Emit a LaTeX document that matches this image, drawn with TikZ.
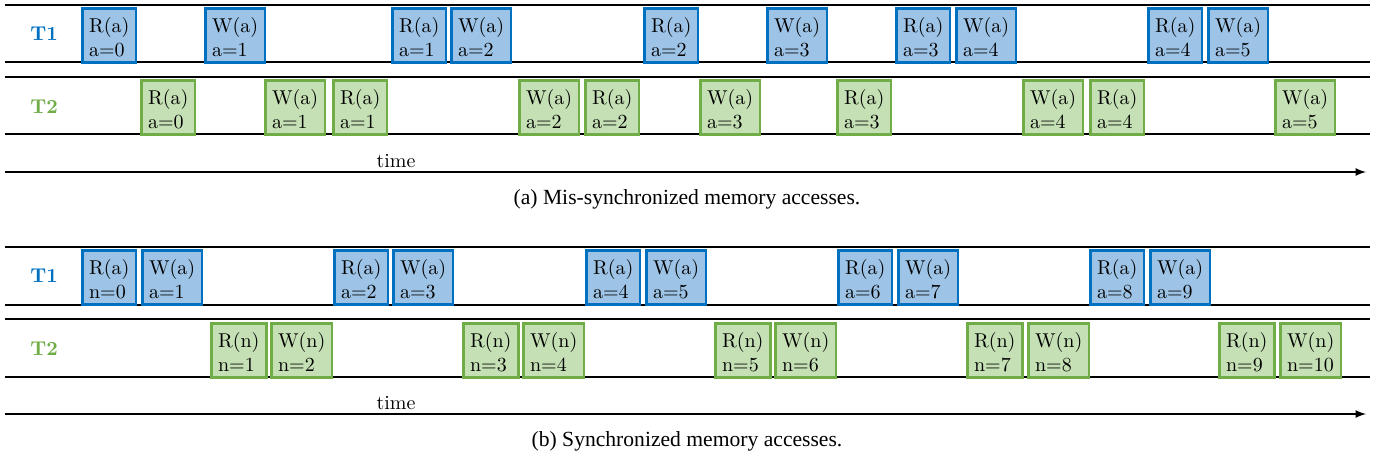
\documentclass[tikz,border=0pt]{standalone}
\usepackage{fontspec}
\newfontfamily\capfont{Liberation Serif}
\usepackage{tikz}
\usetikzlibrary{positioning,arrows}
\definecolor{tonecol}{RGB}{0,112,192}
\definecolor{tonefill}{RGB}{157,195,230}
\definecolor{ttwocol}{RGB}{112,173,71}
\definecolor{ttwofill}{RGB}{197,224,180}
\tikzset{
  opbox/.style={draw, line width=1.3pt, anchor=north west, align=left,
    minimum height=27pt, inner xsep=3.4pt, inner ysep=0pt,
    text height=24pt, text depth=3pt},
  oneop/.style={opbox, draw=tonecol, fill=tonefill},
  twoop/.style={opbox, draw=ttwocol, fill=ttwofill},
  lane/.style={line width=0.8pt},
  tlabel/.style={font=\bfseries},
  caption/.style={font=\capfont\fontsize{10.8}{13}\selectfont},
}

\begin{document}
\begin{tikzpicture}[x=0.5pt,y=-0.5pt,>=latex]
	\useasboundingbox (0,0) rectangle (1375,460);

	%(a) the mis-synchronized accesses
	\draw[lane] (5,5) -- (1370,5);
	\draw[lane] (5,62) -- (1370,62);
	\draw[lane] (5,77) -- (1370,77);
	\draw[lane] (5,134) -- (1370,134);
	\node[tlabel,text=tonecol] (misT1) at (44,34) {T1};
	\node[tlabel,text=ttwocol] (misT2) at (44,107) {T2};
	\foreach \x/\op/\v [count=\i] in {81/R/0,204/W/1,391/R/1,450/W/2,643/R/2,
		766/W/3,895/R/3,955/W/4,1147/R/4,1207/W/5}
		\node[oneop] (misa\i) at (\x,7) {\op(a)\\a=\v};
	\foreach \x/\op/\v [count=\i] in {140/R/0,264/W/1,332/R/1,518/W/2,584/R/2,
		699/W/3,836/R/3,1022/W/4,1089/R/4,1274/W/5}
		\node[twoop] (misb\i) at (\x,79) {\op(a)\\a=\v};
	\coordinate (misstart) at (5,172);
	\coordinate (misend) at (1366,172);
	\draw[lane,->] (misstart) -- (misend);
	\node[] (mistime) at (396,161) {time};
	\node[caption] (miscap) at (687,199) {(a) Mis-synchronized memory accesses.};

	%(b) the synchronized accesses
	\draw[lane] (5,247) -- (1370,247);
	\draw[lane] (5,305) -- (1370,305);
	\draw[lane] (5,319) -- (1370,319);
	\draw[lane] (5,377) -- (1370,377);
	\node[tlabel,text=tonecol] (synT1) at (44,276) {T1};
	\node[tlabel,text=ttwocol] (synT2) at (44,349) {T2};
	\foreach \x/\op/\v [count=\i] in {81/R/{n=0},141/W/{a=1},333/R/{a=2},392/W/{a=3},
		585/R/{a=4},645/W/{a=5},837/R/{a=6},897/W/{a=7},1089/R/{a=8},1149/W/{a=9}}
		\node[oneop] (syna\i) at (\x,249) {\op(a)\\\v};
	\foreach \x/\op/\v [count=\i] in {210/R/1,270/W/2,462/R/3,522/W/4,714/R/5,
		774/W/6,966/R/7,1027/W/8,1218/R/9,1279/W/10}
		\node[twoop] (synb\i) at (\x,322) {\op(n)\\n=\v};
	\coordinate (synstart) at (5,414);
	\coordinate (synend) at (1366,414);
	\draw[lane,->] (synstart) -- (synend);
	\node[] (syntime) at (396,403) {time};
	\node[caption] (syncap) at (687,441) {(b) Synchronized memory accesses.};

\end{tikzpicture}
\end{document}
